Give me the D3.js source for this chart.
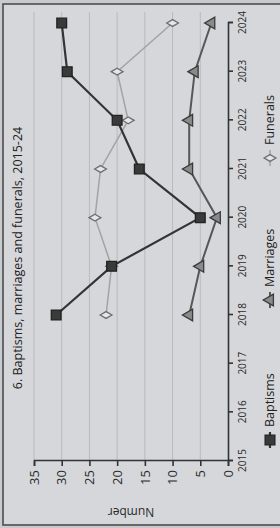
<!DOCTYPE html>
<html>
<head>
<meta charset="utf-8">
<script src="https://cdn.jsdelivr.net/npm/d3@7"></script>
<style>
  html, body { margin: 0; padding: 0; background: #c9cace; }
  svg { display: block; }
</style>
</head>
<body>
<div id="chart"></div>
<script>
// page is a photo of a printed chart turned on its side, so we draw it flat and rotate
let width = 280, height = 528;
let W = 528, H = 280; // unrotated chart size

const years = [2015, 2016, 2017, 2018, 2019, 2020, 2021, 2022, 2023, 2024];
const dataYears = [2018, 2019, 2020, 2021, 2022, 2023, 2024];
const baptisms = [31, 21, 5, 16, 20, 29, 30];
const marriages = [7, 5, 2, 7, 7, 6, 3];
const funerals = [22, 21, 24, 23, 18, 20, 10];
const valueTicks = [0, 5, 10, 15, 20, 25, 30, 35];

const title = "6. Baptisms, marriages and funerals, 2015-24";

let margin = { top: 34, bottom: 52, left: 67, right: 23 };

const svg = d3
  .select("#chart")
  .append("svg")
  .attr("width", width)
  .attr("height", height);

svg.append("rect").attr("width", width).attr("height", height).attr("fill", "#c9cace");

const g = svg.append("g").attr("transform", `translate(0,${height}) rotate(-90)`);

// paper + frame
g.append("rect")
  .attr("x", 3)
  .attr("y", 3)
  .attr("width", W - 7)
  .attr("height", H + 10)
  .attr("fill", "#d6d7db")
  .attr("stroke", "#4d4d4f")
  .attr("stroke-width", 1.6);

const x = d3
  .scaleLinear()
  .domain([2015, 2024])
  .range([margin.left, W - margin.right]);

const y = d3
  .scaleLinear()
  .domain([0, 35])
  .range([H - margin.bottom, margin.top]);

// GRIDLINES
g.append("g")
  .selectAll("line")
  .data(valueTicks.filter((d) => d > 0))
  .join("line")
  .attr("x1", x(2015))
  .attr("x2", W - 12)
  .attr("y1", (d) => y(d))
  .attr("y2", (d) => y(d))
  .attr("stroke", "#b9babe")
  .attr("stroke-width", 1);

// AXES
const xAxis = d3.axisBottom(x).tickValues(years).tickFormat(d3.format("d")).tickSize(5).tickSizeOuter(5);
const yAxis = d3.axisLeft(y).tickValues(valueTicks).tickSize(5).tickSizeOuter(5);

g.append("g")
  .attr("transform", `translate(0,${H - margin.bottom})`)
  .call(xAxis)
  .call((ax) => ax.selectAll("path,line").attr("stroke", "#333").attr("stroke-width", 1.6))
  .call((ax) =>
    ax.selectAll("text")
      .attr("fill", "#2a2a2a")
      .attr("font-family", "Open Sans")
      .attr("font-size", 10)
      .attr("y", 11)
  );

g.append("g")
  .attr("transform", `translate(${margin.left},0)`)
  .call(yAxis)
  .call((ax) => ax.selectAll("path,line").attr("stroke", "#333").attr("stroke-width", 1.6))
  .call((ax) =>
    ax.selectAll("text")
      .attr("fill", "#2a2a2a")
      .attr("font-family", "Open Sans")
      .attr("font-size", 13)
      .attr("x", -9)
  );

g.append("text")
  .attr("transform", `translate(20,${(y(0) + y(35)) / 2}) rotate(-90)`)
  .attr("text-anchor", "middle")
  .attr("font-family", "Open Sans")
  .attr("font-size", 12)
  .attr("fill", "#2a2a2a")
  .text("Number");

// TITLE
g.append("text")
  .attr("x", 270)
  .attr("y", 22)
  .attr("text-anchor", "middle")
  .attr("font-family", "Open Sans")
  .attr("font-size", 12.5)
  .attr("fill", "#222")
  .text(title);

// SERIES
const series = [
  { name: "Baptisms", values: baptisms, line: "#343434", lw: 2.2, symbol: d3.symbolSquare, size: 95, fill: "#3a3a3a", stroke: "#222" },
  { name: "Marriages", values: marriages, line: "#575757", lw: 2, symbol: d3.symbolTriangle, size: 60, fill: "#8a8a8a", stroke: "#3a3a3a" },
  { name: "Funerals", values: funerals, line: "#a3a3a5", lw: 1.5, symbol: d3.symbolDiamond, size: 40, fill: "#e6e6e8", stroke: "#6e6e70" },
];

const line = d3
  .line()
  .x((d, i) => x(dataYears[i]))
  .y((d) => y(d));

// draw funerals first so baptisms sits on top
[series[2], series[1], series[0]].forEach((s) => {
  g.append("path")
    .datum(s.values)
    .attr("fill", "none")
    .attr("stroke", s.line)
    .attr("stroke-width", s.lw)
    .attr("d", line);

  g.append("g")
    .selectAll("path")
    .data(s.values)
    .join("path")
    .attr("transform", (d, i) => `translate(${x(dataYears[i])},${y(d)})`)
    .attr("d", d3.symbol().type(s.symbol).size(s.size))
    .attr("fill", s.fill)
    .attr("stroke", s.stroke)
    .attr("stroke-width", 1.3);
});

// LEGEND
const legendX = [88, 228, 370];
const legend = g
  .append("g")
  .selectAll("g")
  .data(series)
  .join("g")
  .attr("transform", (d, i) => `translate(${legendX[i]},270)`);

legend
  .append("line")
  .attr("x1", -8)
  .attr("x2", 8)
  .attr("stroke", (d) => d.line)
  .attr("stroke-width", (d) => d.lw);

legend
  .append("path")
  .attr("d", (d) => d3.symbol().type(d.symbol).size(d.size)())
  .attr("fill", (d) => d.fill)
  .attr("stroke", (d) => d.stroke)
  .attr("stroke-width", 1.3);

legend
  .append("text")
  .attr("x", 13)
  .attr("dy", "0.35em")
  .attr("font-family", "Open Sans")
  .attr("font-size", 12.5)
  .attr("fill", "#222")
  .text((d) => d.name);
</script>
</body>
</html>
